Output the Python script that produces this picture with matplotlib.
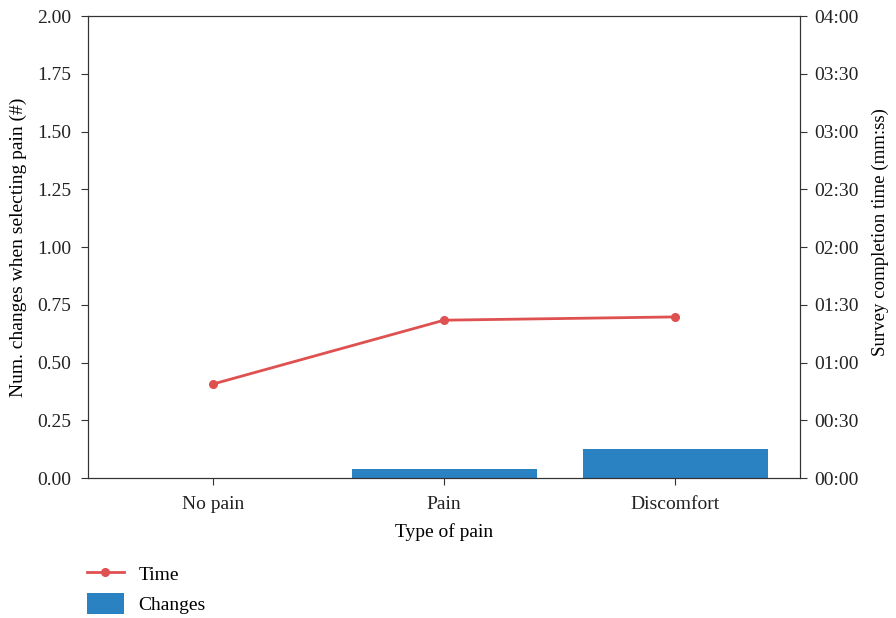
import matplotlib
matplotlib.use("Agg")
from matplotlib import pyplot as plt
from matplotlib.ticker import FuncFormatter, MultipleLocator
import numpy as np

categories = ["No pain", "Pain", "Discomfort"]
changes = [0.0, 0.04, 0.125]
time_sec = [48.8, 82.0, 83.7]

plt.rcParams['font.family'] = ['Liberation Serif', 'DejaVu Serif']
plt.rcParams['font.size'] = 14

red = "#df5050"
blue = "#2b82c2"

fig = plt.figure(figsize=(8.96, 6.18), dpi=100)
ax = fig.add_axes([0.0982, 0.2265, 0.7948, 0.7475])
x = np.arange(len(categories))

bars = ax.bar(x, changes, width=0.8, color=blue, label="Changes")
ax.set_ylim(0, 2.0)
ax.yaxis.set_major_locator(MultipleLocator(0.25))
ax.yaxis.set_major_formatter(FuncFormatter(lambda v, p: "%.2f" % v))
ax.set_xticks(x)
ax.set_xticklabels(categories)
ax.set_xlabel("Type of pain", labelpad=7)
ax.set_ylabel("Num. changes when selecting pain (#)", labelpad=7)

ax2 = ax.twinx()
line, = ax2.plot(x, time_sec, color=red, marker="o", markersize=5.5, lw=2, label="Time")
ax2.set_ylim(0, 240)
ax2.yaxis.set_major_locator(MultipleLocator(30))
ax2.yaxis.set_major_formatter(FuncFormatter(lambda v, p: "%02d:%02d" % (v // 60, v % 60)))
ax2.set_ylabel("Survey completion time (mm:ss)", fontsize=13.6)

for a in (ax, ax2):
    for s in a.spines.values():
        s.set_color("#333333")
    a.tick_params(colors="#333333", labelcolor="#222222", length=5, pad=7)
ax.tick_params(axis="x", pad=8)
ax2.tick_params(pad=5)
ax2.yaxis.set_label_coords(1.1, 0.532)

fig.legend([line, bars], ["Time", "Changes"], loc="upper left",
           bbox_to_anchor=(0.097, 0.089), frameon=False, handlelength=1.9,
           handleheight=1.3, handletextpad=0.75, labelspacing=0.45, borderaxespad=0,
           borderpad=0)

fig.savefig("out.png", dpi=100)
